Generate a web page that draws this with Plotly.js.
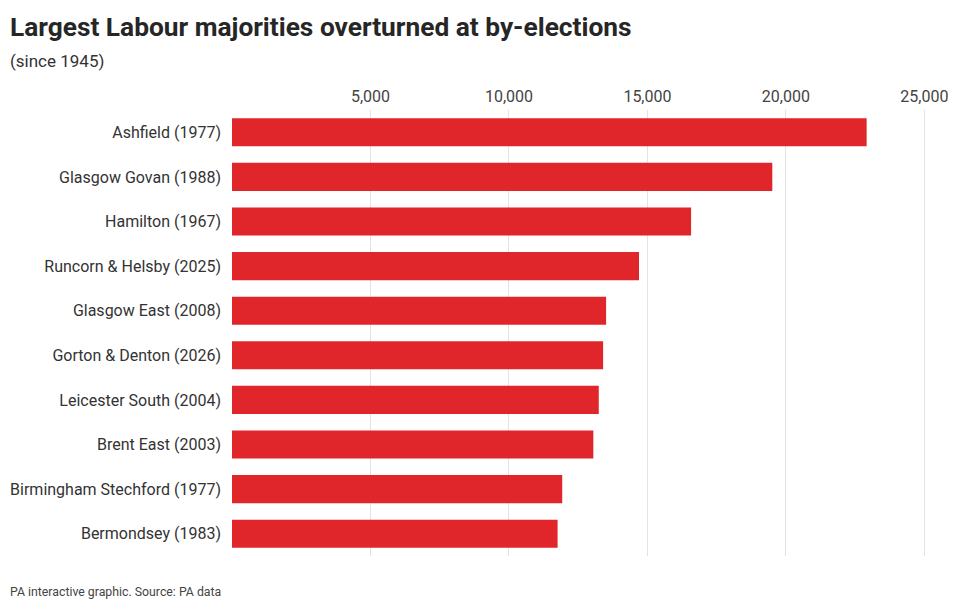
<!DOCTYPE html>
<html>
<head>
<meta charset="utf-8">
<script src="https://cdn.plot.ly/plotly-3.0.1.min.js"></script>
<style>
  html, body { margin: 0; padding: 0; background: #fff; }
  #chart { width: 960px; height: 611px; }
</style>
</head>
<body>
<div id="chart"></div>
<script>
// Majorities overturned
const seats = [
    'Ashfield (1977)',
    'Glasgow Govan (1988)',
    'Hamilton (1967)',
    'Runcorn & Helsby (2025)',
    'Glasgow East (2008)',
    'Gorton & Denton (2026)',
    'Leicester South (2004)',
    'Brent East (2003)',
    'Birmingham Stechford (1977)',
    'Bermondsey (1983)'
];
const majorities = [22915, 19509, 16576, 14696, 13507, 13400, 13243, 13047, 11923, 11756];
const tickValues = [5000, 10000, 15000, 20000, 25000];
const tickLabels = ['5,000', '10,000', '15,000', '20,000', '25,000'];

const font = 'Roboto, Inter, sans-serif';

const data = [{
    type: 'bar',
    orientation: 'h',
    x: majorities,
    y: seats,
    marker: { color: '#e0252b', line: { width: 0 } },
    hoverinfo: 'x+y'
}];

const layout = {
    width: 960,
    height: 611,
    margin: { l: 232, r: 19, t: 110, b: 55 },
    paper_bgcolor: '#fff',
    plot_bgcolor: '#fff',
    font: { family: font, color: '#333', size: 16 },
    bargap: 0.37,
    showlegend: false,
    xaxis: {
        side: 'top',
        range: [0, 25600],
        tickvals: tickValues,
        ticktext: tickLabels,
        showgrid: true,
        gridcolor: '#e3e3e3',
        gridwidth: 1,
        zeroline: false,
        showline: false,
        ticks: '',
        tickfont: { size: 16, color: '#444' },
        ticklabelstandoff: 4,
        fixedrange: true
    },
    yaxis: {
        autorange: 'reversed',
        showgrid: false,
        zeroline: false,
        showline: false,
        ticks: '',
        ticklabelstandoff: 10,
        tickfont: { size: 16, color: '#333' },
        fixedrange: true
    },
    annotations: [
        {
            text: '<b>Largest Labour majorities overturned at by-elections</b>',
            xref: 'paper', yref: 'paper', x: 0, y: 1,
            xanchor: 'left', yanchor: 'top',
            xshift: -224, yshift: 100,
            showarrow: false,
            font: { family: font, size: 26.3, color: '#262626' }
        },
        {
            text: '(since 1945)',
            xref: 'paper', yref: 'paper', x: 0, y: 1,
            xanchor: 'left', yanchor: 'top',
            xshift: -224, yshift: 61,
            showarrow: false,
            font: { family: font, size: 17, color: '#333' }
        },
        {
            text: 'PA interactive graphic. Source: PA data',
            xref: 'paper', yref: 'paper', x: 0, y: 0,
            xanchor: 'left', yanchor: 'top',
            xshift: -224, yshift: -27,
            showarrow: false,
            font: { family: font, size: 12.3, color: '#444' }
        }
    ]
};

Plotly.newPlot('chart', data, layout, { displayModeBar: false, staticPlot: true });
</script>
</body>
</html>
